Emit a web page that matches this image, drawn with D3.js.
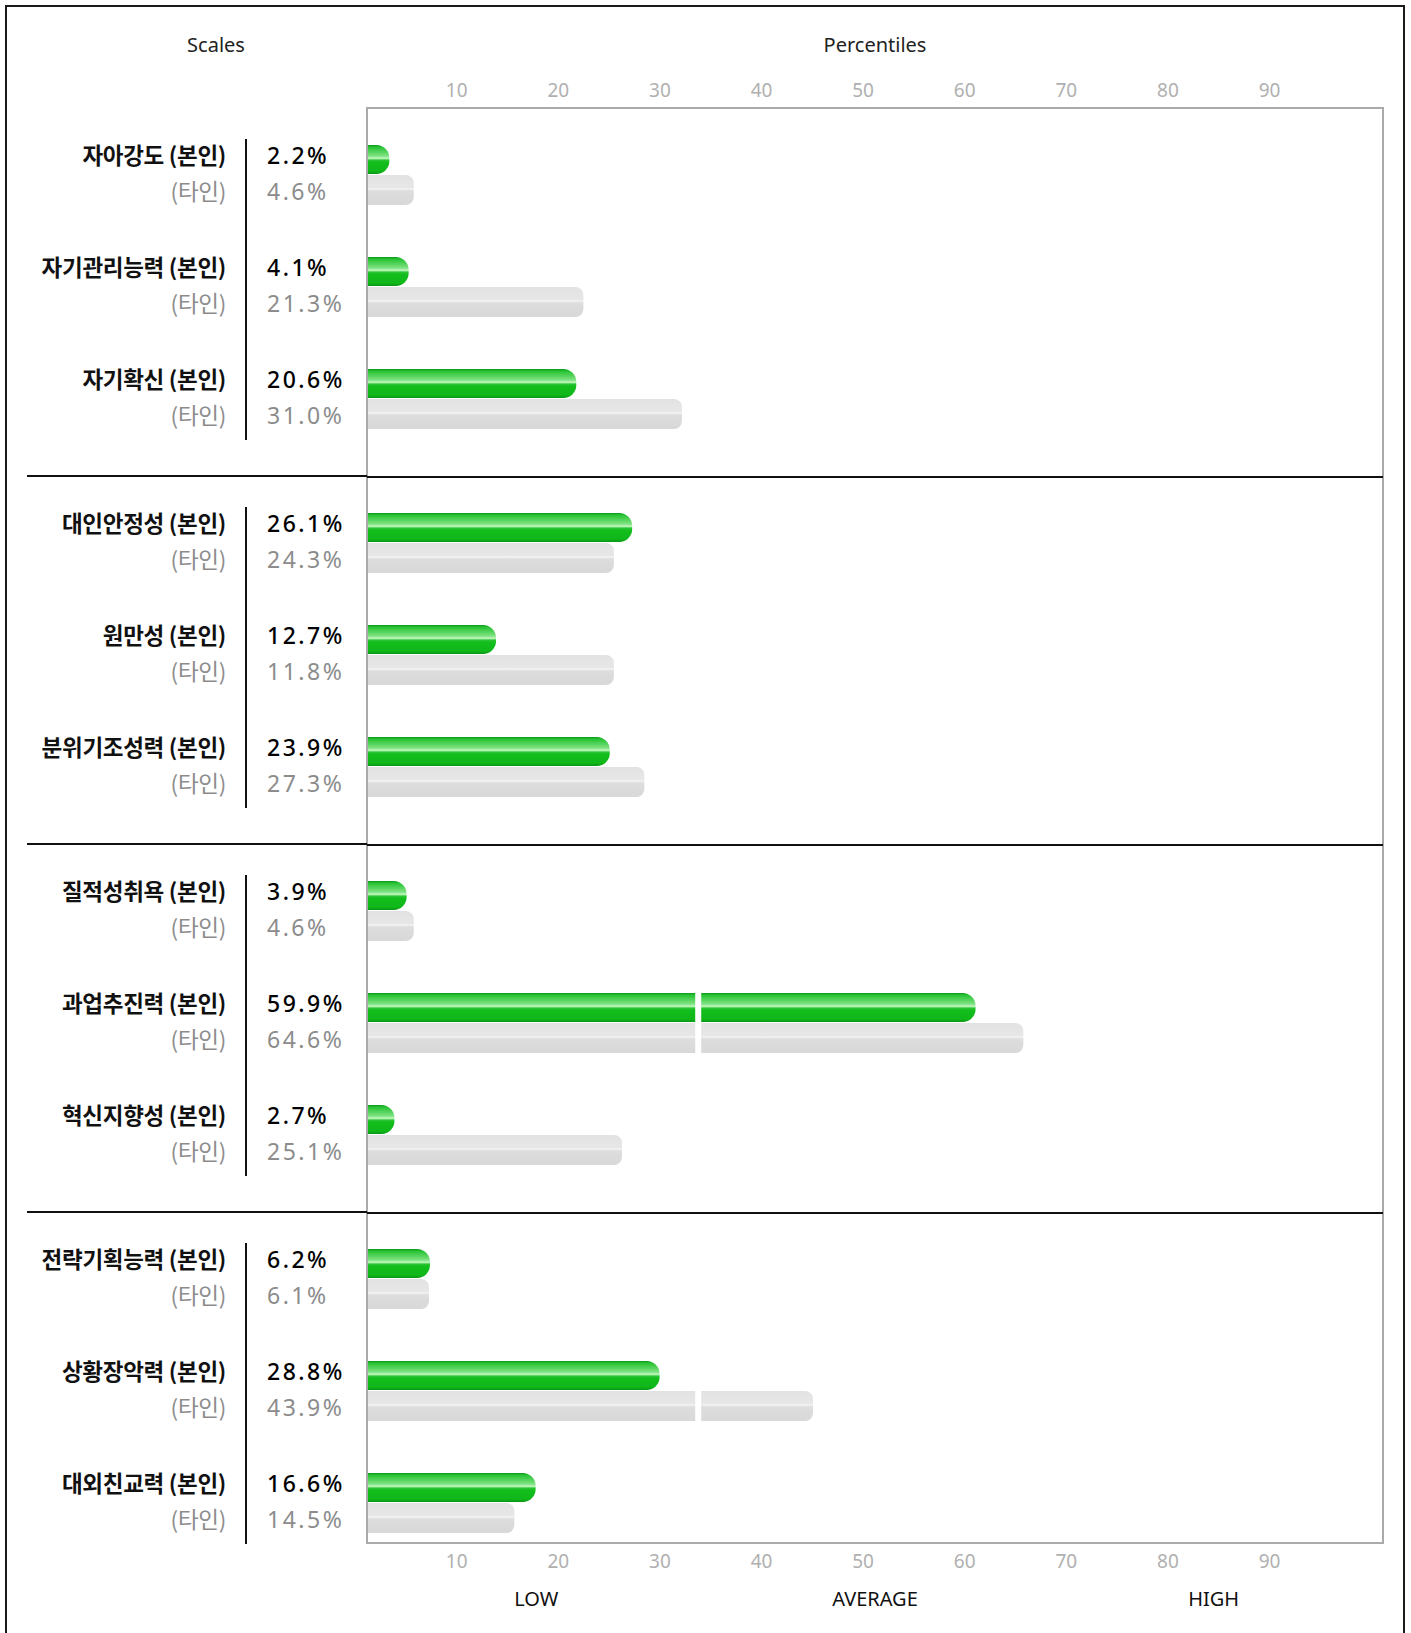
<!DOCTYPE html>
<html>
<head>
<meta charset="utf-8">
<script src="https://cdn.jsdelivr.net/npm/d3@7"></script>
<style>
  html, body { margin: 0; padding: 0; background: #fff; }
  svg { display: block; }
</style>
</head>
<body>
<div id="chart"></div>
<script>
// scale names, grouped 3 per section
const scaleNames = [
  "자아강도", "자기관리능력", "자기확신",
  "대인안정성", "원만성", "분위기조성력",
  "질적성취욕", "과업추진력", "혁신지향성",
  "전략기획능력", "상황장악력", "대외친교력"
];
// percentiles (본인 = self, 타인 = others)
const selfPct  = [2.2, 4.1, 20.6, 26.1, 12.7, 23.9, 3.9, 59.9, 2.7, 6.2, 28.8, 16.6];
const otherPct = [4.6, 21.3, 31.0, 24.3, 11.8, 27.3, 4.6, 64.6, 25.1, 6.1, 43.9, 14.5];
// bar lengths of the grey bars as drawn in the picture (원만성 is drawn longer than its label)
const otherBar = [4.6, 21.3, 31.0, 24.3, 24.3, 27.3, 4.6, 64.6, 25.1, 6.1, 43.9, 14.5];
const tickValues = [10, 20, 30, 40, 50, 60, 70, 80, 90];
const zoneLabels = ["LOW", "AVERAGE", "HIGH"];
const zoneCenters = [100 / 6, 50, 500 / 6];
const barBreak = 32.6;   // thin white break through long bars

const W = 1411, H = 1633;
const rowsPerGroup = 3;
const groupStep = 368, rowStep = 112, firstRow = 156;
const rowY = i => firstRow + Math.floor(i / rowsPerGroup) * groupStep + (i % rowsPerGroup) * rowStep;

const svg = d3.select("#chart").append("svg")
  .attr("width", W).attr("height", H);

const defs = svg.append("defs");
const gGreen = defs.append("linearGradient").attr("id", "gGreen")
  .attr("x1", 0).attr("y1", 0).attr("x2", 0).attr("y2", 1);
[[0, "#0c9618"], [0.07, "#25c232"], [0.38, "#7fe282"], [0.46, "#c4f7c4"],
 [0.52, "#2ac532"], [0.6, "#12bd1c"], [0.9, "#0fb818"], [1, "#0a9414"]]
  .forEach(([o, c]) => gGreen.append("stop").attr("offset", o).attr("stop-color", c));
const gGrey = defs.append("linearGradient").attr("id", "gGrey")
  .attr("x1", 0).attr("y1", 0).attr("x2", 0).attr("y2", 1);
[[0, "#e2e2e2"], [0.42, "#e7e7e7"], [0.47, "#f3f3f3"], [0.53, "#dddddd"], [1, "#d8d8d8"]]
  .forEach(([o, c]) => gGrey.append("stop").attr("offset", o).attr("stop-color", c));

// outer frame
svg.append("rect")
  .attr("x", 6).attr("y", 6).attr("width", 1398).attr("height", 1660)
  .attr("fill", "none").attr("stroke", "#1a1a1a").attr("stroke-width", 2);

const x = d3.scaleLinear().domain([0, 100]).range([367, 1383]);
const plotTop = 108, plotBottom = 1543;

const sans = "'Noto Sans', 'Open Sans', sans-serif";
const kr = "'Noto Sans CJK KR', 'Noto Sans', sans-serif";

// headers
svg.append("text").attr("x", 216).attr("y", 52).attr("text-anchor", "middle")
  .style("font-family", sans).style("font-size", "20px").attr("fill", "#222").text("Scales");
svg.append("text").attr("x", x(50)).attr("y", 52).attr("text-anchor", "middle")
  .style("font-family", sans).style("font-size", "20px").attr("fill", "#222").text("Percentiles");

// tick labels top & bottom (right-aligned at tick)
[97, 1568].forEach(ty => {
  svg.append("g").selectAll("text").data(tickValues).join("text")
    .attr("x", d => x(d) - 1).attr("y", ty).attr("text-anchor", "end")
    .style("font-family", sans).style("font-size", "19px").attr("fill", "#b0b0b0")
    .text(d => d);
});

svg.append("g").selectAll("text").data(zoneLabels).join("text")
  .attr("x", (d, i) => x(zoneCenters[i])).attr("y", 1606).attr("text-anchor", "middle")
  .style("font-family", sans).style("font-size", "20px").attr("fill", "#111")
  .text(d => d);

// plot frame
svg.append("rect")
  .attr("x", x(0)).attr("y", plotTop)
  .attr("width", x(100) - x(0)).attr("height", plotBottom - plotTop)
  .attr("fill", "none").attr("stroke", "#aaa").attr("stroke-width", 2);

// section separators
const nGroups = scaleNames.length / rowsPerGroup;
d3.range(nGroups - 1).forEach(g => {
  const y0 = rowY(g * rowsPerGroup) + 320;
  svg.append("line").attr("x1", 27).attr("x2", x(0)).attr("y1", y0).attr("y2", y0)
    .attr("stroke", "#111").attr("stroke-width", 2);
  svg.append("line").attr("x1", x(0)).attr("x2", x(100)).attr("y1", y0 + 1).attr("y2", y0 + 1)
    .attr("stroke", "#111").attr("stroke-width", 2);
});

// vertical divider per group
d3.range(nGroups).forEach(g => {
  const y0 = rowY(g * rowsPerGroup);
  svg.append("line").attr("x1", 246).attr("x2", 246)
    .attr("y1", y0 - 17).attr("y2", y0 + 284)
    .attr("stroke", "#111").attr("stroke-width", 2);
});

// bar shape: square left end, rounded right end
function barPath(x0, x1, y, h, r) {
  r = Math.min(r, (x1 - x0), h / 2);
  return `M${x0},${y}H${x1 - r}A${r},${r} 0 0 1 ${x1},${y + r}V${y + h - r}` +
    `A${r},${r} 0 0 1 ${x1 - r},${y + h}H${x0}Z`;
}

const rows = svg.append("g").selectAll("g.row")
  .data(scaleNames.map((name, i) => ({ name, i, self: selfPct[i], other: otherPct[i], otherLen: otherBar[i] })))
  .join("g").attr("class", "row");

// labels
rows.append("text")
  .attr("x", 226).attr("y", d => rowY(d.i) + 8).attr("text-anchor", "end")
  .style("font-family", kr).style("font-size", "22.5px").style("font-weight", "bold")
  .style("letter-spacing", "-0.3px").attr("fill", "#111")
  .text(d => `${d.name} (본인)`);
rows.append("text")
  .attr("x", 226).attr("y", d => rowY(d.i) + 44).attr("text-anchor", "end")
  .style("font-family", kr).style("font-size", "22.5px")
  .style("letter-spacing", "-0.3px").attr("fill", "#8c8c8c")
  .text("(타인)");
rows.append("text")
  .attr("x", 267).attr("y", d => rowY(d.i) + 8)
  .style("font-family", sans).style("font-size", "23px").style("font-weight", "500")
  .style("letter-spacing", "2.5px").attr("fill", "#000")
  .text(d => d.self.toFixed(1) + "%");
rows.append("text")
  .attr("x", 267).attr("y", d => rowY(d.i) + 44)
  .style("font-family", sans).style("font-size", "23px")
  .style("letter-spacing", "2.5px").attr("fill", "#8c8c8c")
  .text(d => d.other.toFixed(1) + "%");

// bars
rows.append("path")
  .attr("d", d => barPath(x(0) + 1, x(d.otherLen), rowY(d.i) + 19, 30, 8))
  .attr("fill", "url(#gGrey)");
rows.append("path")
  .attr("d", d => barPath(x(0) + 1, x(d.self), rowY(d.i) - 11, 29, 13))
  .attr("fill", "url(#gGreen)");

// white break through bars that pass the break point
rows.filter(d => d.self > barBreak).append("rect")
  .attr("x", x(barBreak) - 3).attr("width", 6)
  .attr("y", d => rowY(d.i) - 11).attr("height", 29).attr("fill", "#fff");
rows.filter(d => d.otherLen > barBreak).append("rect")
  .attr("x", x(barBreak) - 3).attr("width", 6)
  .attr("y", d => rowY(d.i) + 19).attr("height", 30).attr("fill", "#fff");
</script>
</body>
</html>
